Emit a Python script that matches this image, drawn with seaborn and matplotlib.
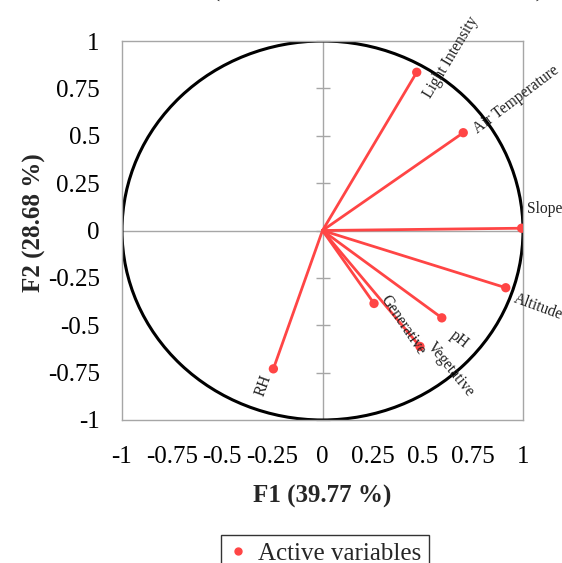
import numpy as np
import pandas as pd
import matplotlib
matplotlib.use("Agg")
import matplotlib.pyplot as plt
from matplotlib.patches import Circle
import seaborn as sns

# ---- data ----
variables = ["Light Intensity", "Air Temperature", "Slope", "Altitude",
             "pH", "Vegetative", "Generative", "RH"]
f1 = [0.470, 0.702, 0.993, 0.914, 0.595, 0.486, 0.257, -0.245]
f2 = [0.835, 0.516, 0.012, -0.302, -0.461, -0.612, -0.385, -0.730]
tick_values = [-1, -0.75, -0.5, -0.25, 0, 0.25, 0.5, 0.75, 1]
tick_labels = ["-1", "-0.75", "-0.5", "-0.25", "0", "0.25", "0.5", "0.75", "1"]
x_title = "F1 (39.77 %)"
y_title = "F2 (28.68 %)"
chart_title = "Variables (axes F1 and F2: 68.45 %)"
legend_label = "Active variables"

# label placement (offset in pixels from point) and rotation
label_offsets = [(34, 15), (53, 33), (23, 19), (32, -19),
                 (17, -22), (31, -23), (29, -22), (-10, -17)]
label_rot = [59, 37, 0, -20, -38, -51, -56, 70]

df = pd.DataFrame({"F1": f1, "F2": f2, "var": variables})

sns.set_theme(style="white")
plt.rcParams["font.family"] = ["Liberation Serif", "DejaVu Serif"]

RED = "#FF4545"
GRAY = "#A6A6A6"

fig = plt.figure(figsize=(5.62, 5.63), dpi=100)
ax = fig.add_axes([122 / 562, 1 - 420 / 563, 401 / 562, 379 / 563])

ax.set_xlim(-1, 1)
ax.set_ylim(-1, 1)

# center lines
ax.axhline(0, color=GRAY, lw=1, zorder=1)
ax.axvline(0, color=GRAY, lw=1, zorder=1)
# tick marks on vertical center line
ax.plot([0] * len(tick_values), tick_values, ls="none", marker="_",
        markersize=10, markeredgewidth=1, color=GRAY, zorder=1, clip_on=False)

# circle
ax.add_patch(Circle((0, 0), 1, fill=False, ec="black", lw=2.2, zorder=2,
                    transform=ax.transData))

# vectors
for x, y in zip(f1, f2):
    ax.plot([0, x], [0, y], color=RED, lw=2, zorder=3, solid_capstyle="round")

sns.scatterplot(data=df, x="F1", y="F2", color=RED, s=45, edgecolor="none",
                zorder=4, ax=ax, label=legend_label, legend=False)

for name, x, y, off, rot in zip(variables, f1, f2, label_offsets, label_rot):
    ax.annotate(name, (x, y), xytext=off, textcoords="offset pixels",
                ha="center", va="center", rotation=rot,
                rotation_mode="anchor", fontsize=11.2, color="#222222",
                zorder=5, annotation_clip=False)

ax.set_xticks(tick_values)
ax.set_xticklabels(tick_labels)
ax.set_yticks(tick_values)
ax.set_yticklabels(tick_labels)
ax.tick_params(axis="both", length=0, labelsize=18, colors="black")
ax.tick_params(axis="x", pad=19)
ax.tick_params(axis="y", pad=16)

ax.set_xlabel(x_title, fontsize=18, fontweight="bold", labelpad=12)
ax.set_ylabel(y_title, fontsize=18, fontweight="bold")
ax.yaxis.set_label_coords(-0.19, 0.52)

for s in ax.spines.values():
    s.set_color(GRAY)
    s.set_linewidth(1)
    s.set_visible(True)

# title mostly cut off at top
fig.text(314 / 562, 1 + 5 / 563, chart_title, ha="center", va="baseline",
         fontsize=21.6, fontweight="bold")

# legend
handle = plt.Line2D([], [], ls="none", marker="o", color=RED, markersize=5)
leg = fig.legend([handle], [legend_label], loc="upper center",
                 bbox_to_anchor=(325 / 562, 1 - 535 / 563), frameon=True,
                 fontsize=18, handlelength=0.8, handletextpad=0.4,
                 borderpad=0.3, fancybox=False, borderaxespad=0)
leg.get_frame().set_edgecolor("black")
leg.get_frame().set_linewidth(1)

fig.savefig("out.png", dpi=100)
